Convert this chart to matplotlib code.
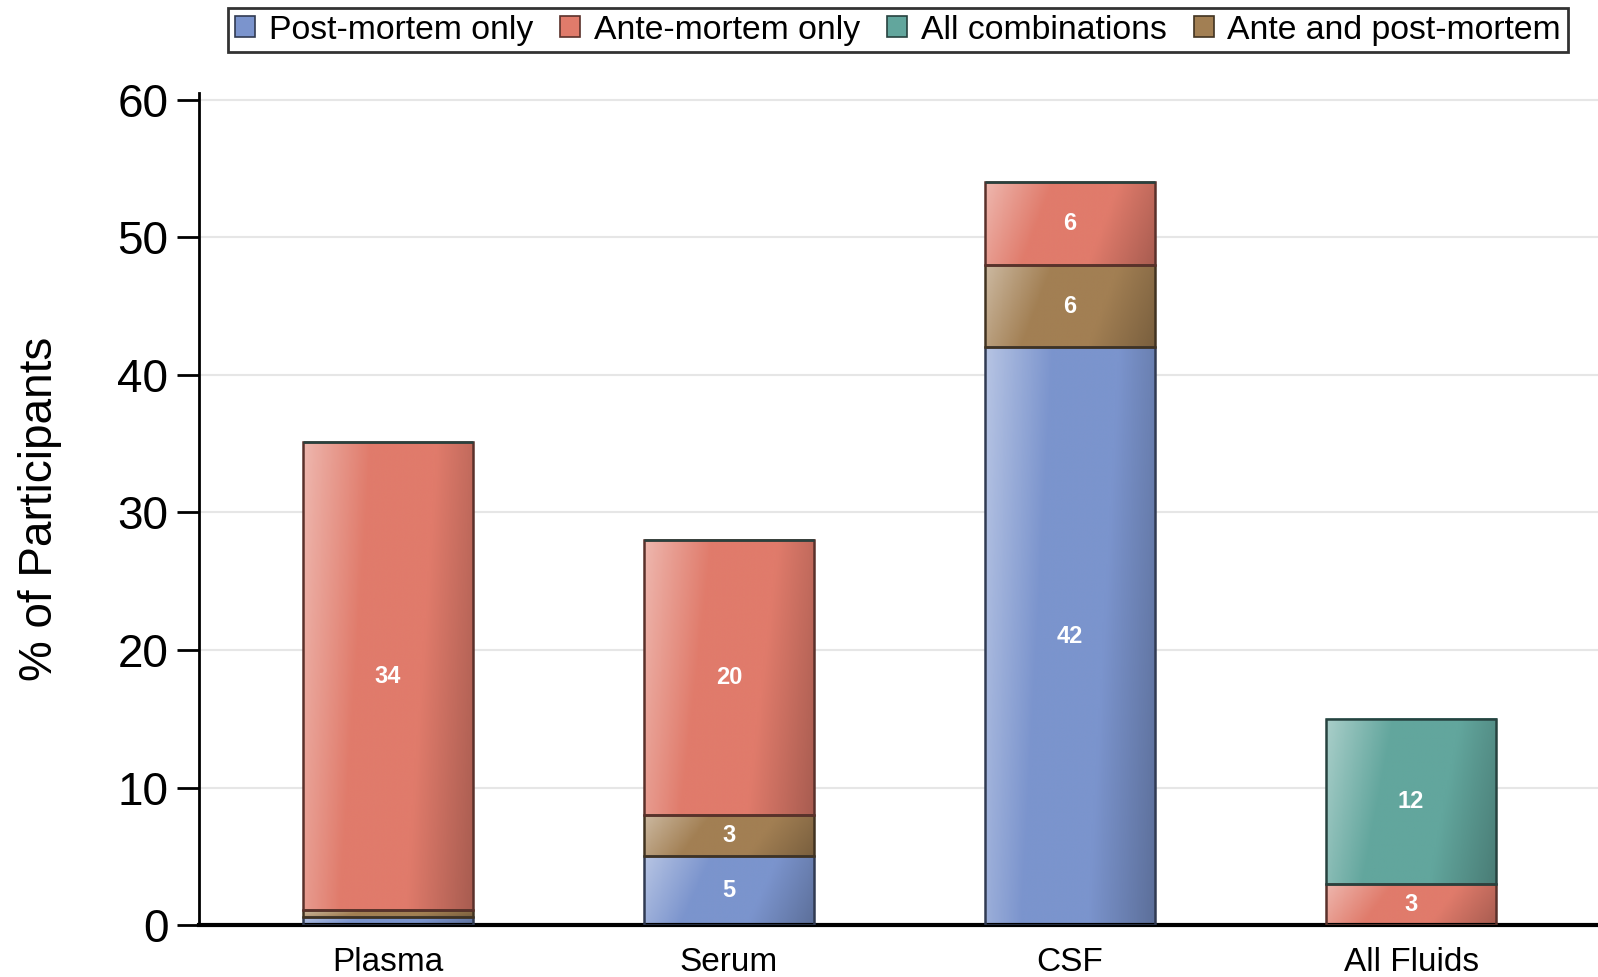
import matplotlib.pyplot as plt
from matplotlib import colors
from matplotlib.patches import Patch
import numpy as np

plt.rcParams['font.family'] = ['Liberation Sans', 'DejaVu Sans']

fluids = ['Plasma', 'Serum', 'CSF', 'All Fluids']
post_only = [0.6, 5, 42, 0]
ante_post = [0.5, 3, 6, 0]
ante_only = [34, 20, 6, 3]
all_comb = [0, 0, 0, 12]

# stacking order bottom -> top
series = [
    ('Post-mortem only', post_only, '#7b94cd'),
    ('Ante and post-mortem', ante_post, '#a27f53'),
    ('Ante-mortem only', ante_only, '#e07b6b'),
    ('All combinations', all_comb, '#62a69d'),
]
legend_order = ['Post-mortem only', 'Ante-mortem only', 'All combinations', 'Ante and post-mortem']


def shade_cmap(base):
    c = np.array(colors.to_rgb(base))
    light = c + (1 - c) * 0.45
    dark = c * 0.75
    return colors.LinearSegmentedColormap.from_list('s', [light, c, c, dark])


fig = plt.figure(figsize=(15.98, 9.77), dpi=100)
ax = fig.add_axes([0.1245, 0.053, 0.8755, 0.852])

x = np.arange(len(fluids))
bottom = np.zeros(len(fluids))
handles = {}
for name, vals, col in series:
    vals = np.array(vals, dtype=float)
    cmap = shade_cmap(col)
    edge = np.array(colors.to_rgb(col)) * 0.4
    bars = ax.bar(x, vals, 0.5, bottom=bottom, color='none', edgecolor=edge,
                  linewidth=1.8, zorder=3)
    for rect, v in zip(bars, vals):
        if v <= 0:
            continue
        x0, y0 = rect.get_x(), rect.get_y()
        w, h = rect.get_width(), rect.get_height()
        gx = np.linspace(0, 1, 200)
        gy = np.linspace(0, 1, 20)[:, None]
        grad = np.clip(gx[None, :] * 0.85 + (1 - gy) * 0.15, 0, 1)
        ax.imshow(grad, cmap=cmap, vmin=0, vmax=1, aspect='auto',
                  extent=(x0, x0 + w, y0, y0 + h), origin='lower',
                  interpolation='bilinear', zorder=2)
        if v >= 2:
            ax.text(x0 + w / 2, y0 + h / 2, f'{v:g}', ha='center', va='center',
                    color='white', fontsize=17, fontweight='bold', zorder=4)
    bottom += vals
    handles[name] = Patch(facecolor=col, edgecolor=edge, linewidth=1.2)

ax.set_xlim(-0.554, 3.548)
ax.set_ylim(0, 60.5)
ax.set_yticks(np.arange(0, 61, 10))
ax.set_xticks(x)
ax.set_xticklabels(fluids, fontsize=24)
ax.tick_params(axis='x', length=0, pad=16)
ax.tick_params(axis='y', labelsize=33, length=16, width=2, pad=6)
ax.set_ylabel('% of Participants', fontsize=33, labelpad=40)

ax.grid(axis='y', color='#e6e6e6', linewidth=1.5, zorder=0)
ax.set_axisbelow(True)
for s in ['top', 'right']:
    ax.spines[s].set_visible(False)
ax.spines['left'].set_linewidth(2)
ax.spines['bottom'].set_linewidth(3)

leg = fig.legend([handles[n] for n in legend_order], legend_order,
                 loc='upper center', bbox_to_anchor=(0.562, 0.992), ncol=4,
                 fontsize=24.3, frameon=True, fancybox=False, edgecolor='black',
                 handlelength=0.6, handleheight=0.6, handletextpad=0.4,
                 columnspacing=0.8, borderpad=0.2, borderaxespad=0)
leg.get_frame().set_linewidth(2)

fig.savefig('out.png', dpi=100)
